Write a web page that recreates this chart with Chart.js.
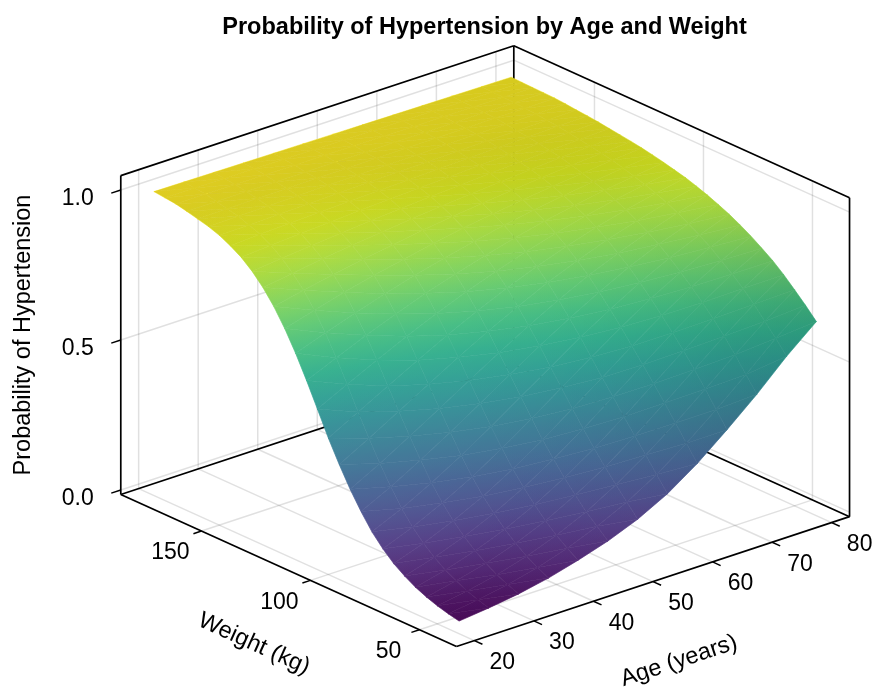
<!DOCTYPE html>
<html>
<head>
<meta charset="utf-8">
<title>Probability of Hypertension</title>
<script src="https://cdn.jsdelivr.net/npm/chart.js@4"></script>
<style>
  html, body { margin: 0; padding: 0; background: #fff; }
  canvas { display: block; }
</style>
</head>
<body>
<canvas id="surface" width="879" height="692"></canvas>
<script>
// values
const ages = [20, 25, 30, 35, 40, 45, 50, 55, 60, 65, 70, 75, 80];
const weights = [40, 45, 50, 55, 60, 65, 70, 75, 80, 85, 90, 95, 100, 105, 110, 115, 120, 125, 130, 135, 140, 145, 150, 155, 160, 165, 170, 175, 180];

const probW40 = [.027, .038, .052, .072, .099, .130, .170, .222, .290, .370, .455, .549, .632];
const probW45 = [.035, .049, .067, .091, .122, .163, .211, .270, .341, .421, .505, .593, .670];
const probW50 = [.045, .062, .083, .112, .149, .195, .252, .318, .392, .473, .554, .633, .705];
const probW55 = [.058, .079, .105, .139, .181, .234, .295, .365, .442, .521, .599, .673, .739];
const probW60 = [.074, .099, .130, .169, .218, .275, .341, .413, .490, .567, .641, .709, .769];
const probW65 = [.095, .125, .161, .206, .259, .321, .389, .463, .537, .611, .679, .741, .794];
const probW70 = [.120, .155, .197, .246, .304, .369, .439, .511, .583, .652, .715, .770, .818];
const probW75 = [.153, .193, .241, .295, .357, .423, .493, .562, .629, .692, .748, .797, .839];
const probW80 = [.193, .238, .291, .349, .413, .479, .546, .612, .673, .729, .779, .822, .858];
const probW85 = [.244, .294, .350, .410, .473, .537, .600, .659, .714, .764, .807, .843, .874];
const probW90 = [.302, .355, .413, .473, .533, .593, .650, .703, .752, .794, .831, .863, .889];
const probW95 = [.368, .423, .480, .537, .594, .648, .698, .745, .786, .822, .853, .880, .902];
const probW100 = [.440, .494, .548, .601, .652, .699, .743, .782, .817, .847, .873, .895, .914];
const probW105 = [.520, .570, .618, .664, .707, .747, .783, .815, .844, .868, .890, .908, .923];
const probW110 = [.599, .642, .684, .722, .758, .790, .819, .845, .868, .887, .905, .919, .932];
const probW115 = [.673, .709, .742, .773, .802, .827, .850, .870, .888, .904, .918, .930, .940];
const probW120 = [.739, .767, .794, .818, .839, .859, .877, .892, .906, .918, .929, .939, .947];
const probW125 = [.796, .817, .837, .855, .871, .886, .899, .911, .921, .931, .939, .946, .953];
const probW130 = [.843, .858, .873, .885, .897, .908, .918, .926, .934, .941, .948, .953, .958];
const probW135 = [.881, .891, .901, .910, .919, .926, .933, .939, .945, .950, .955, .959, .963];
const probW140 = [.911, .918, .924, .930, .936, .941, .946, .950, .954, .958, .962, .965, .968];
const probW145 = [.933, .938, .942, .946, .950, .953, .956, .960, .962, .965, .967, .970, .972];
const probW150 = [.951, .953, .956, .958, .961, .963, .965, .967, .969, .971, .972, .974, .975];
const probW155 = [.964, .965, .967, .968, .970, .971, .972, .973, .975, .976, .977, .978, .979];
const probW160 = [.973, .974, .975, .976, .977, .977, .978, .979, .979, .980, .981, .981, .982];
const probW165 = [.982, .982, .982, .982, .982, .982, .982, .983, .982, .983, .983, .983, .983];
const probW170 = [.990, .990, .989, .989, .988, .988, .987, .987, .986, .986, .985, .985, .984];
const probW175 = [.994, .994, .993, .992, .991, .990, .990, .989, .988, .987, .986, .986, .985];
const probW180 = [.998, .997, .996, .995, .994, .993, .992, .991, .990, .989, .988, .987, .986];

const probGrid = [probW40, probW45, probW50, probW55, probW60, probW65, probW70, probW75, probW80,
  probW85, probW90, probW95, probW100, probW105, probW110, probW115, probW120, probW125, probW130,
  probW135, probW140, probW145, probW150, probW155, probW160, probW165, probW170, probW175, probW180];

const ageTicks = [20, 30, 40, 50, 60, 70, 80];
const weightTicks = [50, 100, 150];
const probTicks = [0, 0.5, 1];
const probTickLabels = ['0.0', '0.5', '1.0'];

// viridis
const viridis = [
  [68, 1, 84], [72, 26, 108], [71, 47, 125], [65, 68, 135], [57, 86, 140], [49, 104, 142],
  [42, 120, 142], [35, 136, 142], [31, 152, 139], [34, 168, 132], [53, 183, 121], [84, 197, 104],
  [122, 209, 81], [165, 219, 54], [210, 226, 27], [253, 231, 37]
];

// box limits of the 3d axis
const ageLim = [17, 83];
const weightLim = [33, 187];
const probLim = [-0.015, 1.048];

// orthographic projection of the box on the page
function project(age, weight, prob) {
  return {
    x: 456.5 + (age - ageLim[0]) * 5.955 - (weight - weightLim[0]) * 2.18,
    y: 646.5 - (age - ageLim[0]) * 1.967 - (weight - weightLim[0]) * 0.987 - (prob - probLim[0]) * 300
  };
}

const probMin = Math.min(...probGrid.flat());
const probMax = Math.max(...probGrid.flat());
const colorKnots = viridis.map((_, i) => probMin + (probMax - probMin) * i / (viridis.length - 1));

function colormap(t) {
  const pos = Math.min(Math.max(t, 0), 1) * (viridis.length - 1);
  const i = Math.min(Math.floor(pos), viridis.length - 2);
  const f = pos - i;
  return viridis[i].map((c, k) => c + (viridis[i + 1][k] - c) * f);
}

function normalize(v) {
  const len = Math.hypot(v[0], v[1], v[2]);
  return v.map(c => c / len);
}
const dot = (u, v) => u[0] * v[0] + u[1] * v[1] + u[2] * v[2];
const clamp01 = v => Math.min(Math.max(v, 0), 1);

const highlightDir = normalize([-0.2, -0.8, 0.55]);

// lighting at a grid node: how much it gets darkened and how much it gets whitened
function nodeLight(w, a) {
  const a0 = Math.max(a - 1, 0), a1 = Math.min(a + 1, ages.length - 1);
  const w0 = Math.max(w - 2, 0), w1 = Math.min(w + 2, weights.length - 1);
  const dA = (probGrid[w][a1] - probGrid[w][a0]) / (ages[a1] - ages[a0]) * 62;
  const dW = (probGrid[w1][a] - probGrid[w0][a]) / (weights[w1] - weights[w0]) * 145;
  const n = normalize([-dA, -dW, 1]);
  const flat = clamp01((n[2] - 0.82) / 0.16);
  const corner = Math.pow(clamp01((ages[a] - 40) / 40), 1.5) * clamp01(1 - (weights[w] - 40) / 60);
  return {
    dark: 0.12 * flat + 0.2 * corner,
    white: 0.11 * Math.pow(Math.max(dot(n, highlightDir), 0), 8)
  };
}

// soften the light a bit, hand read values are too rough for clean normals
function softened(field) {
  return field.map((row, w) => row.map((_, a) => {
    let sum = 0, count = 0;
    for (let dw = -2; dw <= 2; dw++) {
      for (let da = -2; da <= 2; da++) {
        if (field[w + dw] && field[w + dw][a + da] !== undefined) {
          sum += field[w + dw][a + da];
          count++;
        }
      }
    }
    return sum / count;
  }));
}

const rawLight = probGrid.map((row, w) => row.map((_, a) => nodeLight(w, a)));
const darkField = softened(softened(rawLight.map(row => row.map(l => l.dark))));
const whiteField = softened(softened(rawLight.map(row => row.map(l => l.white))));

// linear gradient over a triangle for a field given at its 3 corners.
// a field that is linear on a triangle is exact, so neighbours meet without a seam.
// knots are field values where colorAt bends, they need their own colour stop
function fieldGradient(chart, pts, vals, colorAt, knots) {
  const ux = pts[1].x - pts[0].x, uy = pts[1].y - pts[0].y;
  const vx = pts[2].x - pts[0].x, vy = pts[2].y - pts[0].y;
  const du = vals[1] - vals[0], dv = vals[2] - vals[0];
  const det = ux * vy - uy * vx;
  const gx = (du * vy - dv * uy) / det;
  const gy = (ux * dv - vx * du) / det;
  const g2 = gx * gx + gy * gy;
  const lo = Math.min(...vals), hi = Math.max(...vals);
  if (!isFinite(g2) || g2 < 1e-14 || hi - lo < 1e-6) return colorAt((lo + hi) / 2);
  // points where the field is lo and hi on the line through the first corner
  const x0 = pts[0].x + (lo - vals[0]) * gx / g2, y0 = pts[0].y + (lo - vals[0]) * gy / g2;
  const x1 = pts[0].x + (hi - vals[0]) * gx / g2, y1 = pts[0].y + (hi - vals[0]) * gy / g2;
  const grad = chart.ctx.createLinearGradient(x0, y0, x1, y1);
  grad.addColorStop(0, colorAt(lo));
  (knots || []).filter(k => k > lo && k < hi).forEach(k => grad.addColorStop((k - lo) / (hi - lo), colorAt(k)));
  grad.addColorStop(1, colorAt(hi));
  return grad;
}

const probColor = p => {
  const c = colormap((p - probMin) / (probMax - probMin));
  return `rgb(${Math.round(c[0])},${Math.round(c[1])},${Math.round(c[2])})`;
};

const overlays = [];
const cells = [];

// mesh triangles, front ones first because the first dataset is painted last
for (let w = 0; w < weights.length - 1; w++) {
  for (let a = 0; a < ages.length - 1; a++) {
    [[[w, a], [w, a + 1], [w + 1, a]], [[w, a + 1], [w + 1, a + 1], [w + 1, a]]].forEach(nodes => {
      const pts = nodes.map(n => project(ages[n[1]], weights[n[0]], probGrid[n[0]][n[1]]));
      const probs = nodes.map(n => probGrid[n[0]][n[1]]);
      const darks = nodes.map(n => darkField[n[0]][n[1]]);
      const whites = nodes.map(n => whiteField[n[0]][n[1]]);
      const shape = [pts[0], pts[1], pts[2], pts[0]];
      const colorPaint = ctx => fieldGradient(ctx.chart, pts, probs, probColor, colorKnots);
      cells.push({
        data: shape, showLine: true, fill: 'shape', backgroundColor: colorPaint, borderColor: colorPaint,
        borderWidth: 0.6, pointRadius: 0, clip: false
      });
      overlays.push({
        data: shape, showLine: true, fill: 'shape', borderWidth: 0, pointRadius: 0, clip: false,
        backgroundColor: ctx => fieldGradient(ctx.chart, pts, whites, v => `rgba(255,255,255,${v})`)
      });
      overlays.push({
        data: shape, showLine: true, fill: 'shape', borderWidth: 0, pointRadius: 0, clip: false,
        backgroundColor: ctx => fieldGradient(ctx.chart, pts, darks, v => `rgba(0,0,0,${v})`)
      });
    });
  }
}

const datasets = [...overlays, ...cells];

function addLine(from, to, color, width) {
  datasets.push({
    data: [project(...from), project(...to)],
    showLine: true,
    fill: false,
    borderColor: color,
    borderWidth: width,
    pointRadius: 0,
    clip: false
  });
}

const [aLo, aHi] = ageLim, [wLo, wHi] = weightLim, [pLo, pHi] = probLim;
const spine = '#000';
const gridColor = 'rgba(0,0,0,0.12)';

// box frame
addLine([aLo, wLo, pLo], [aHi, wLo, pLo], spine, 1.7);
addLine([aLo, wLo, pLo], [aLo, wHi, pLo], spine, 1.7);
addLine([aLo, wHi, pLo], [aHi, wHi, pLo], spine, 1.7);
addLine([aHi, wLo, pLo], [aHi, wHi, pLo], spine, 1.7);
addLine([aLo, wHi, pLo], [aLo, wHi, pHi], spine, 1.7);
addLine([aHi, wLo, pLo], [aHi, wLo, pHi], spine, 1.7);
addLine([aHi, wHi, pLo], [aHi, wHi, pHi], spine, 1.7);
addLine([aLo, wHi, pHi], [aHi, wHi, pHi], spine, 1.7);
addLine([aHi, wLo, pHi], [aHi, wHi, pHi], spine, 1.7);

// tick marks
ageTicks.forEach(a => addLine([a, wLo, pLo], [a, wLo - 3.7, pLo], spine, 1.5));
weightTicks.forEach(w => addLine([aLo, w, pLo], [aLo - 1.35, w, pLo], spine, 1.5));
probTicks.forEach(p => addLine([aLo, wHi, p], [aLo - 1.6, wHi, p], spine, 1.5));

// grid on the floor and on the two back walls
ageTicks.forEach(a => {
  addLine([a, wLo, pLo], [a, wHi, pLo], gridColor, 1.5);
  addLine([a, wHi, pLo], [a, wHi, pHi], gridColor, 1.5);
});
weightTicks.forEach(w => {
  addLine([aLo, w, pLo], [aHi, w, pLo], gridColor, 1.5);
  addLine([aHi, w, pLo], [aHi, w, pHi], gridColor, 1.5);
});
probTicks.forEach(p => {
  addLine([aLo, wHi, p], [aHi, wHi, p], gridColor, 1.5);
  addLine([aHi, wLo, p], [aHi, wHi, p], gridColor, 1.5);
});

// tick labels and axis names, chart.js has no 3d axes
const labelFont = '23px "Liberation Sans"';
const axisNameFont = '23.5px "Liberation Sans"';
const axisTextPlugin = {
  id: 'axisText',
  afterDraw(chart) {
    const c = chart.ctx;
    const px = p => ({ x: chart.scales.x.getPixelForValue(p.x), y: chart.scales.y.getPixelForValue(p.y) });
    const put = (text, x, y, rot, align) => {
      c.save();
      c.translate(x, y);
      c.rotate(rot);
      c.textAlign = align || 'center';
      c.textBaseline = 'middle';
      c.fillText(text, 0, 0);
      c.restore();
    };
    c.save();
    c.fillStyle = '#000';
    c.font = labelFont;
    ageTicks.forEach(a => {
      const t = px(project(a, wLo, pLo));
      put(String(a), t.x + 28, t.y + 22, 0);
    });
    weightTicks.forEach(w => {
      const t = px(project(aLo, w, pLo));
      put(String(w), t.x - 31, t.y + 22, 0);
    });
    probTicks.forEach((p, i) => {
      const t = px(project(aLo, wHi, p));
      put(probTickLabels[i], t.x - 27, t.y + 9, 0, 'right');
    });
    c.font = axisNameFont;
    put('Probability of Hypertension', 24, 335, -Math.PI / 2);
    put('Weight (kg)', 254, 644, 24.3 * Math.PI / 180);
    put('Age (years)', 679, 661, -18.3 * Math.PI / 180);
    c.restore();
  }
};

new Chart(document.getElementById('surface'), {
  type: 'scatter',
  data: { datasets },
  plugins: [axisTextPlugin],
  options: {
    responsive: false,
    animation: false,
    events: [],
    layout: { padding: { left: 90 } },
    plugins: {
      legend: { display: false },
      tooltip: { enabled: false },
      title: {
        display: true,
        text: 'Probability of Hypertension by Age and Weight',
        color: '#000',
        font: { family: '"Liberation Sans"', size: 23.5, weight: 'bold' },
        padding: { top: 13, bottom: 6 }
      }
    },
    scales: {
      x: { type: 'linear', display: false, min: 90, max: 879 },
      y: { type: 'linear', display: false, reverse: true, min: 47.2, max: 692 }
    }
  }
});
</script>
</body>
</html>
